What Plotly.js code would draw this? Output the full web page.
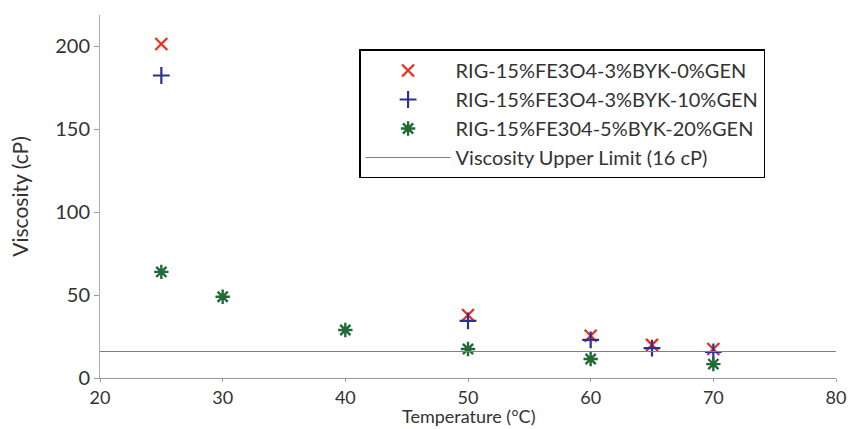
<!DOCTYPE html>
<html>
<head>
<meta charset="utf-8">
<script src="https://cdn.plot.ly/plotly-3.0.1.min.js"></script>
<style>html,body{margin:0;padding:0;background:#fff;}#chart{width:851px;height:429px;}</style>
</head>
<body>
<div id="chart"></div>
<script>
const seriesNames = ["RIG-15%FE3O4-3%BYK-0%GEN", "RIG-15%FE3O4-3%BYK-10%GEN", "RIG-15%FE304-5%BYK-20%GEN"];
const tempA = [25, 50, 60, 65, 70];
const viscA = [201.5, 38, 25.5, 20, 17.5];
const tempB = [25, 50, 60, 65, 70];
const viscB = [182.5, 34.5, 23, 18, 15.7];
const tempC = [25, 30, 40, 50, 60, 70];
const viscC = [64, 49, 29, 17.5, 11.5, 8.4];
const limitName = "Viscosity Upper Limit (16 cP)";
const limitX = [20, 80];
const limitY = [16, 16];
const xTitle = "Temperature (°C)";

const font = "Lato, 'Open Sans', sans-serif";
const traces = [
  {x: tempA, y: viscA, name: seriesNames[0], mode: "markers", type: "scatter",
   marker: {symbol: "x-thin-open", size: 12, line: {color: "#e8331f", width: 2.4}, color: "#e8331f"}},
  {x: tempB, y: viscB, name: seriesNames[1], mode: "markers", type: "scatter",
   marker: {symbol: "cross-thin-open", size: 12, line: {color: "#2b2f9a", width: 2.2}, color: "#2b2f9a"}},
  {x: tempC, y: viscC, name: seriesNames[2], mode: "markers", type: "scatter",
   marker: {symbol: "asterisk-open", size: 12, line: {color: "#1f6b35", width: 2.4}, color: "#1f6b35"}},
  {x: limitX, y: limitY, name: limitName, mode: "lines", type: "scatter",
   line: {color: "#808080", width: 1.2}}
];

const layout = {
  width: 851, height: 429,
  margin: {l: 100, r: 15, t: 15, b: 51},
  paper_bgcolor: "#fff", plot_bgcolor: "#fff",
  font: {family: font, size: 19, color: "#333"},
  showlegend: true,
  legend: {x: 0.352, y: 0.905, xanchor: "left", yanchor: "top",
    bordercolor: "#000", borderwidth: 1.5, bgcolor: "#fff",
    font: {family: font, size: 20, color: "#333"}, itemwidth: 85},
  xaxis: {range: [20, 80], tickvals: [20, 30, 40, 50, 60, 70, 80],
    showgrid: false, zeroline: false, showline: true, linecolor: "#999", linewidth: 1,
    ticks: "outside", ticklen: 3, tickcolor: "#999",
    tickfont: {family: font, size: 18, color: "#333"}},
  yaxis: {range: [0, 219], tickvals: [0, 50, 100, 150, 200],
    showgrid: false, zeroline: false, showline: true, linecolor: "#aab", linewidth: 1,
    ticks: "outside", ticklen: 5, tickcolor: "#999",
    tickfont: {family: font, size: 20, color: "#333"},
    title: {text: "Viscosity (cP)", standoff: 20, font: {family: font, size: 21, color: "#333"}}},
  annotations: [{text: xTitle, xref: "paper", yref: "paper", x: 0.5, y: 0,
    xanchor: "center", yanchor: "bottom", yshift: -51, showarrow: false,
    font: {family: font, size: 18, color: "#333"}}]
};

Plotly.newPlot("chart", traces, layout, {displayModeBar: false, staticPlot: true});
</script>
</body>
</html>
